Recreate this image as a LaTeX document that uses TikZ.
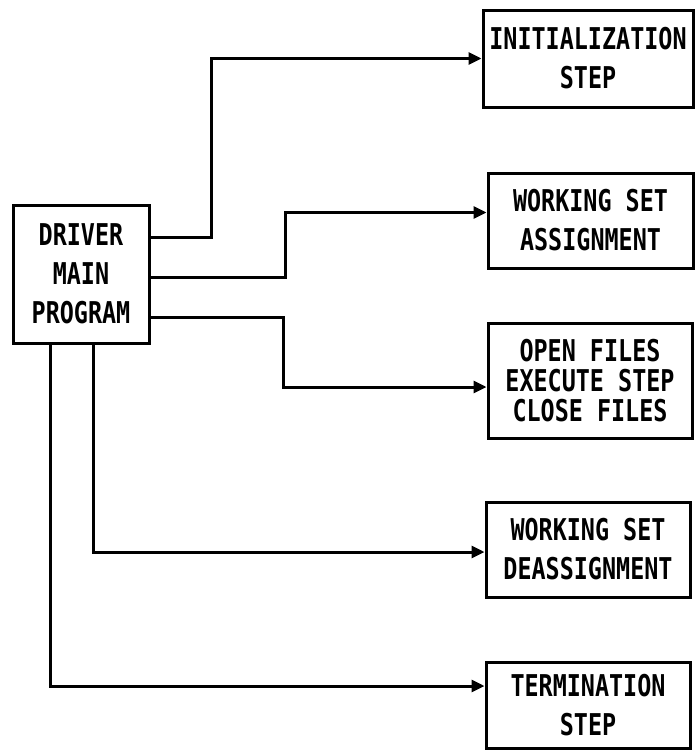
\documentclass[tikz,border=0pt]{standalone}
\usepackage{fontspec}
\newfontfamily\plotfont[FakeStretch=0.78]{DejaVu Sans Mono}
\usetikzlibrary{arrows.meta}
\begin{document}
\begin{tikzpicture}[x=1pt,y=-1pt,
  box/.style={draw, line width=3pt, inner sep=0pt, align=center,
    font=\plotfont\bfseries\fontsize{30}{39}\selectfont},
  tight/.style={font=\plotfont\bfseries\fontsize{30}{30}\selectfont},
  conn/.style={line width=3pt, -{Triangle[length=13pt,width=12pt]}}]
\useasboundingbox[fill=white] (0,0) rectangle (695,755);
\node[box, minimum width=136pt, minimum height=138pt] (d) at (81,274) {DRIVER\\MAIN\\PROGRAM};
\node[box, minimum width=210pt, minimum height=97pt] (b1) at (588,58.5) {INITIALIZATION\\STEP};
\node[box, minimum width=205pt, minimum height=95pt] (b2) at (590.5,220.5) {WORKING SET\\ASSIGNMENT};
\node[box, tight, minimum width=204pt, minimum height=115pt] (b3) at (590,380.5) {OPEN FILES\\EXECUTE STEP\\CLOSE FILES};
\node[box, minimum width=204pt, minimum height=95pt] (b4) at (588,549.5) {WORKING SET\\DEASSIGNMENT};
\node[box, minimum width=204pt, minimum height=86pt] (b5) at (588,705) {TERMINATION\\STEP};
\draw[conn] ([yshift=37pt]d.east) -| ([xshift=-270pt]b1.west) -- (b1.west);
\draw[conn] ([yshift=-3pt]d.east) -| ([xshift=-201pt,yshift=8pt]b2.west) -- ([yshift=8pt]b2.west);
\draw[conn] ([yshift=-43pt]d.east) -| ([xshift=-203pt,yshift=-6.5pt]b3.west) -- ([yshift=-6.5pt]b3.west);
\draw[conn] ([xshift=12pt]d.south) |- ([yshift=-2.5pt]b4.west);
\draw[conn] ([xshift=-31pt]d.south) |- ([yshift=19pt]b5.west);
\end{tikzpicture}
\end{document}
